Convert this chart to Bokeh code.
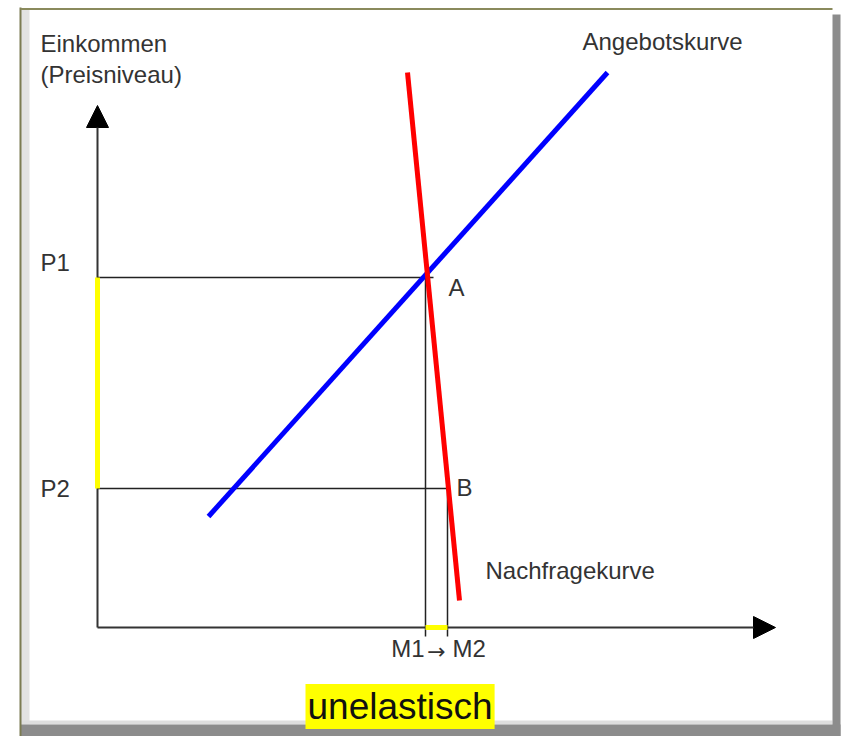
from bokeh.plotting import figure
from bokeh.models import Range1d, Arrow, NormalHead, Label
from bokeh.core.properties import value
from bokeh.embed import file_html
from bokeh.resources import INLINE

# ---- data (schematic units, origin at the axes' corner) ----
supply_x = [11.1, 51.0]      # Angebotskurve
supply_y = [11.1, 55.5]
demand_x = [31.0, 36.2]      # Nachfragekurve
demand_y = [55.5, 2.7]
P1, P2 = 35.0, 13.9          # price levels
M1, M2 = 32.8, 35.0          # quantities
x_axis_end = 67.8
y_axis_end = 52.2
price_labels = ["P1", "P2"]
point_labels = ["A", "B"]
quantity_labels = ["M1", "M2"]

FONT = "Liberation Sans"
TXT = "#333333"

p = figure(width=844, height=736, output_backend="svg", toolbar_location=None,
           x_range=Range1d(-9.7, 74.7), y_range=Range1d(-10.9, 62.7),
           min_border=0, outline_line_color=None)
p.xaxis.visible = False
p.yaxis.visible = False
p.grid.visible = False
p.background_fill_color = "white"
p.border_fill_color = "white"

# ---- frame decoration ----
p.quad(left=-7.7, right=-6.8, bottom=-9.7, top=61.8, fill_color="#e2e2e2", line_color=None)
p.quad(left=-7.7, right=73.5, bottom=-9.7, top=-9.3, fill_color="#dedede", line_color=None)
p.quad(left=73.5, right=74.3, bottom=-10.9, top=61.3, fill_color="#8c8c8c", line_color=None)
p.quad(left=-7.7, right=74.3, bottom=-10.9, top=-9.7, fill_color="#8c8c8c", line_color=None)
p.segment(x0=[-7.7], y0=[-10.9], x1=[-7.7], y1=[62.0], line_color="#7b7b52", line_width=2)
p.segment(x0=[-7.7], y0=[61.85], x1=[73.5], y1=[61.85], line_color="#8a8a5c", line_width=2)

# ---- axes ----
p.add_layout(Arrow(end=NormalHead(size=22, fill_color="black", line_color="black"),
                   x_start=0, y_start=0, x_end=0, y_end=y_axis_end,
                   line_color="#333333", line_width=2, level="underlay"))
p.add_layout(Arrow(end=NormalHead(size=22, fill_color="black", line_color="black"),
                   x_start=0, y_start=0, x_end=x_axis_end, y_end=0,
                   line_color="#333333", line_width=2, level="underlay"))

# ---- guide lines ----
p.segment(x0=[0, 0], y0=[P1, P2], x1=[M1 + 0.8, M2], y1=[P1, P2],
          line_color="#222222", line_width=1.5)
p.segment(x0=[M1, M2], y0=[-0.9, -0.9], x1=[M1, M2], y1=[P1, P2],
          line_color="#222222", line_width=1.5)

# ---- yellow highlights ----
p.segment(x0=[0], y0=[P2], x1=[0], y1=[P1], line_color="#ffff00", line_width=5)
p.segment(x0=[M1], y0=[0], x1=[M2], y1=[0], line_color="#ffff00", line_width=5)

# ---- curves ----
p.line(supply_x, supply_y, line_color="#0000ff", line_width=5)
p.line(demand_x, demand_y, line_color="#ff0000", line_width=5)

# ---- texts ----
def txt(x, y, s, size="24px", align="left", font=FONT):
    p.text(x=[x], y=[y], text=[s], text_font=value(font), text_font_size=size,
           text_color=TXT, text_baseline="middle", text_align=align)

txt(-5.7, 58.4, "Einkommen")
txt(-5.7, 55.3, "(Preisniveau)")
txt(48.5, 58.6, "Angebotskurve")
txt(-5.7, P1 + 1.5, price_labels[0])
txt(-5.7, P2, price_labels[1])
txt(M2 + 0.1, P1 - 1.0, point_labels[0])
txt(M2 + 0.9, P2 + 0.1, point_labels[1])
txt(38.8, 5.7, "Nachfragekurve")
txt(M1 - 0.1, -2.1, quantity_labels[0], align="right")
txt(M2 + 0.5, -2.1, quantity_labels[1], align="left")
txt((M1 + M2) / 2, -2.4, "\u2192", size="22px", align="center", font="DejaVu Sans")

p.add_layout(Label(x=20.8, y=-7.9, text="unelastisch", text_font=FONT,
                   text_font_size="37px", text_color="#111111",
                   text_baseline="middle", text_align="left",
                   background_fill_color="#ffff00", padding=2))

open("out.html", "w").write(file_html(p, INLINE))
